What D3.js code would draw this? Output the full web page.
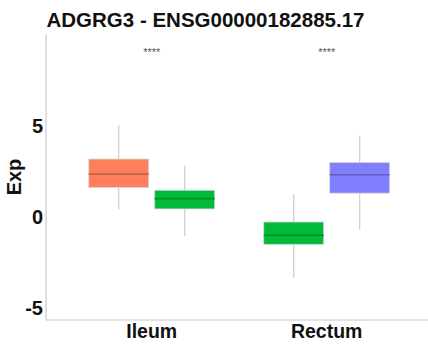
<!DOCTYPE html>
<html>
<head>
  <script src="https://d3js.org/d3.v7.min.js"></script>
  <style>
    body { margin: 0; background: #fff; }
    text { font-family: "Liberation Sans", Arial, sans-serif; }
  </style>
</head>
<body>
  <svg id="chart" width="428" height="344"></svg>
  <script>
    // data
    const tissues = ['Ileum', 'Rectum'];
    const groups = ['Ileum', 'Normal', 'Rectum'];
    const groupColors = ['#FF7F5C', '#00BA38', '#7F7FFF'];
    const medianColors = ['#C0604A', '#008C2C', '#6060C0'];
    // each box: tissue, group, whisker low, q1, median, q3, whisker high
    const boxTissue = ['Ileum', 'Ileum', 'Rectum', 'Rectum'];
    const boxGroup = ['Ileum', 'Normal', 'Normal', 'Rectum'];
    const boxSlot = [0, 1, 0, 1];
    const lowVals = [0.40, -1.08, -3.36, -0.71];
    const q1Vals = [1.61, 0.43, -1.52, 1.30];
    const medVals = [2.35, 1.00, -1.02, 2.31];
    const q3Vals = [3.18, 1.46, -0.29, 2.99];
    const highVals = [5.06, 2.81, 1.24, 4.46];
    const sigLabels = ['****', '****'];
    const yTicks = [-5, 0, 5];

    const svg = d3.select('#chart');
    const plotLeft = 46, plotRight = 428, plotTop = 34, plotBottom = 320;

    const y = d3.scaleLinear().domain([-5, 5]).range([307.5, 126]);
    const x = d3.scaleBand().domain(tissues).range([64.2, 414.2]);
    const slot = d3.scaleBand().domain([0, 1]).range([0, x.bandwidth()]).paddingInner(0.091).paddingOuter(0.372);

    // axes lines
    svg.append('line').attr('x1', plotLeft).attr('x2', plotLeft).attr('y1', plotTop).attr('y2', plotBottom)
      .attr('stroke', '#c8c8c8').attr('stroke-width', 1.2);
    svg.append('line').attr('x1', plotLeft).attr('x2', plotRight).attr('y1', plotBottom).attr('y2', plotBottom)
      .attr('stroke', '#c8c8c8').attr('stroke-width', 1.2);

    // y tick labels
    svg.selectAll('.ytick').data(yTicks).enter().append('text')
      .attr('class', 'ytick')
      .attr('x', 43).attr('y', d => y(d)).attr('dy', '0.36em')
      .attr('text-anchor', 'end').attr('font-size', 20).attr('font-weight', 'bold')
      .attr('fill', '#111').text(d => d);

    // x tick labels
    svg.selectAll('.xtick').data(tissues).enter().append('text')
      .attr('class', 'xtick')
      .attr('x', d => x(d) + x.bandwidth() / 2).attr('y', 337.7)
      .attr('text-anchor', 'middle').attr('font-size', 19.5).attr('font-weight', 'bold')
      .attr('fill', '#111').text(d => d);

    // y title
    svg.append('text')
      .attr('transform', `translate(21,177) rotate(-90)`)
      .attr('text-anchor', 'middle').attr('font-size', 20).attr('font-weight', 'bold')
      .attr('fill', '#111').text('Exp');

    // title
    svg.append('text').attr('x', 46.5).attr('y', 27)
      .attr('font-size', 20.5).attr('font-weight', 'bold').attr('fill', '#111')
      .text('ADGRG3 - ENSG00000182885.17');

    // boxes
    const boxes = d3.range(lowVals.length).map(i => ({
      tissue: boxTissue[i], group: boxGroup[i], slot: boxSlot[i],
      low: lowVals[i], q1: q1Vals[i], med: medVals[i], q3: q3Vals[i], high: highVals[i]
    }));

    const g = svg.selectAll('.box').data(boxes).enter().append('g').attr('class', 'box');
    const bx = d => x(d.tissue) + slot(d.slot);
    const cx = d => bx(d) + slot.bandwidth() / 2;

    g.append('line')
      .attr('x1', cx).attr('x2', cx).attr('y1', d => y(d.high)).attr('y2', d => y(d.low))
      .attr('stroke', '#d0d0d0').attr('stroke-width', 1.3);
    g.append('rect')
      .attr('x', bx).attr('width', slot.bandwidth())
      .attr('y', d => y(d.q3)).attr('height', d => y(d.q1) - y(d.q3))
      .attr('fill', d => groupColors[groups.indexOf(d.group)])
      .attr('stroke', '#d8d8d8').attr('stroke-width', 0.8);
    g.append('line')
      .attr('x1', bx).attr('x2', d => bx(d) + slot.bandwidth())
      .attr('y1', d => y(d.med)).attr('y2', d => y(d.med))
      .attr('stroke', d => medianColors[groups.indexOf(d.group)]).attr('stroke-width', 1.6);

    // significance labels
    svg.selectAll('.sig').data(tissues).enter().append('text')
      .attr('class', 'sig')
      .attr('x', d => x(d) + x.bandwidth() / 2).attr('y', 55.5)
      .attr('text-anchor', 'middle').attr('font-size', 11).attr('fill', '#555')
      .text((d, i) => sigLabels[i]);
  </script>
</body>
</html>
